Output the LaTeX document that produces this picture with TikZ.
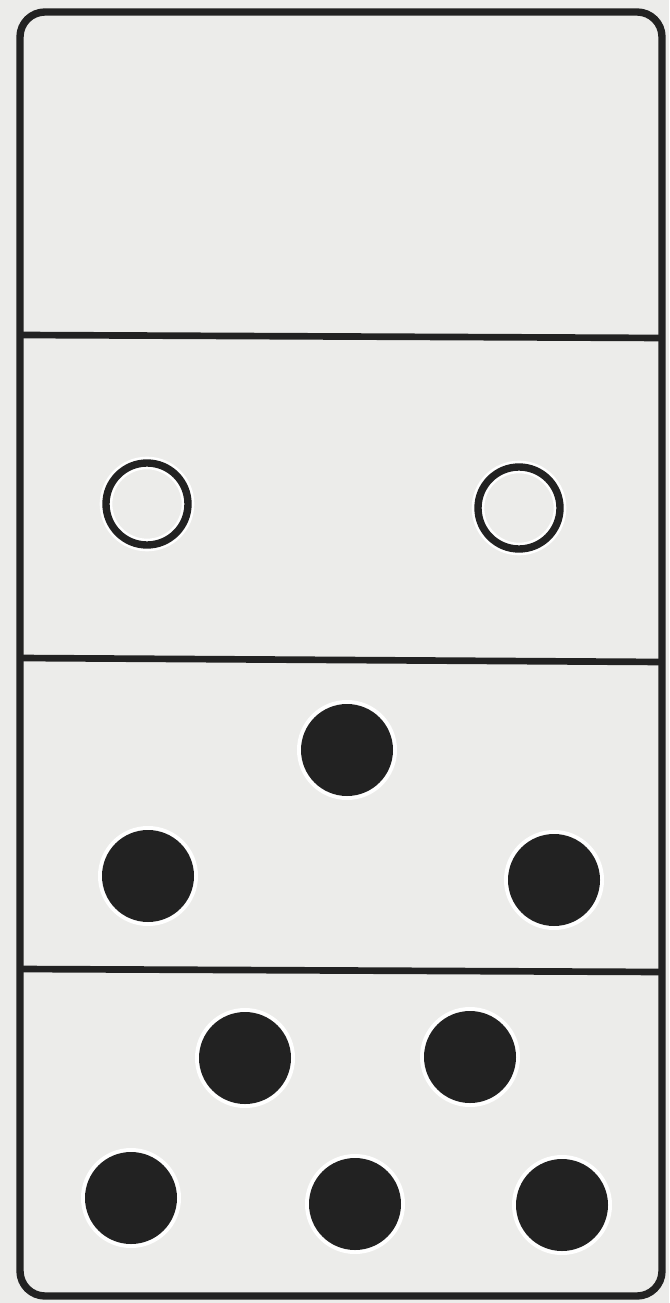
\documentclass[tikz,border=0pt]{standalone}
\usepackage{tikz}
\usepackage{xcolor}
\definecolor{paper}{HTML}{ECECEA}
\definecolor{pip}{HTML}{222222}
\begin{document}
\begin{tikzpicture}[x=1cm,y=1cm,line width=1.9pt]
\fill[paper] (0,0) rectangle (6.69,-13.03);
\useasboundingbox (0,0) rectangle (6.69,-13.03);
\draw[pip,line width=2.1pt,rounded corners=0.25cm] (0.20,-0.12) rectangle (6.62,-12.96);
\draw[pip] (0.20,-3.35) -- (6.62,-3.38);
\draw[pip] (0.20,-6.58) -- (6.62,-6.62);
\draw[pip] (0.20,-9.69) -- (6.62,-9.72);
% open pips
\foreach \x/\y in {1.47/-5.04, 5.19/-5.08}{
  \draw[white,line width=3.6pt] (\x,\y) circle (0.41);
  \draw[pip,line width=2.1pt] (\x,\y) circle (0.41);
}
% filled pips
\foreach \x/\y in {3.47/-7.50, 1.48/-8.76, 5.54/-8.80,
                   2.45/-10.58, 4.70/-10.57, 1.31/-11.98, 3.55/-12.04, 5.62/-12.05}{
  \fill[white] (\x,\y) circle (0.50);
  \fill[pip] (\x,\y) circle (0.46);
}
\end{tikzpicture}
\end{document}
